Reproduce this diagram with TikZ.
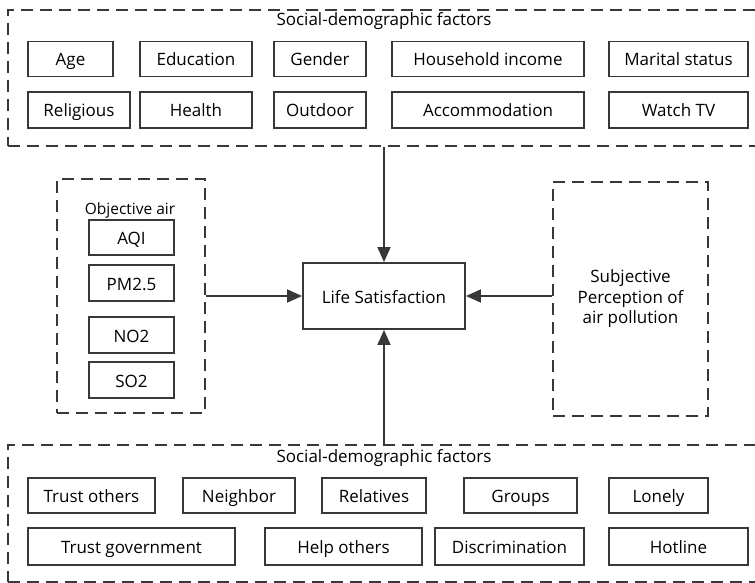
\documentclass[tikz,border=0pt]{standalone}
\usepackage{fontspec}
\setmainfont{Open Sans}
\usetikzlibrary{arrows.meta}
\definecolor{linegray}{HTML}{383838}

\begin{document}
\begin{tikzpicture}[x=1pt, y=-1pt,
    item/.style={draw=linegray, line width=1.9pt, inner sep=0pt, minimum height=35pt, text height=14.5pt, text depth=0.5pt, font=\fontsize{17}{20}\selectfont},
    group/.style={draw=linegray, line width=1.9pt, dash pattern=on 12pt off 7pt, inner sep=0pt},
    arr/.style={draw=linegray, line width=1.9pt, -{Triangle[length=15pt,width=13pt]}}]
  \useasboundingbox (0,0) rectangle (755,583);
  \clip (0,0) rectangle (755,583);
  % dashed containers
  \node[group, minimum width=752pt, minimum height=136pt] (sdtop) at (384,78) {};
  \node[group, minimum width=752pt, minimum height=137pt] (sdbottom) at (384,513.5) {};
  \node[group, minimum width=148pt, minimum height=234pt] (objair) at (131,296) {};
  \node[group, minimum width=155pt, minimum height=234pt, align=center, font=\fontsize{17}{20.5}\selectfont] (subjair) at (630.5,299) {Subjective\\Perception of\\air pollution};
  \node[item, minimum width=162pt, minimum height=66pt] (lifesat) at (384,296) {Life Satisfaction};
  % top factors
  \node[font=\fontsize{17}{20}\selectfont] (toptitle) at (384,21) {Social-demographic factors};
  \node[item, minimum width=85pt] (age) at (70.5,59) {Age};
  \node[item, minimum width=112pt] (edu) at (196,59) {Education};
  \node[item, minimum width=92pt] (gender) at (320,59) {Gender};
  \node[item, minimum width=192pt] (income) at (488,59) {Household income};
  \node[item, minimum width=139pt] (marital) at (678.5,59) {Marital status};
  \node[item, minimum width=102pt, minimum height=36pt] (relig) at (79,110) {Religious};
  \node[item, minimum width=112pt, minimum height=36pt] (health) at (196,110) {Health};
  \node[item, minimum width=92pt, minimum height=36pt] (outdoor) at (320,110) {Outdoor};
  \node[item, minimum width=192pt, minimum height=36pt] (accom) at (488,110) {Accommodation};
  \node[item, minimum width=139pt, minimum height=36pt] (tv) at (678.5,110) {Watch TV};
  % objective air
  \node[font=\fontsize{15.5}{18}\selectfont] (objtitle) at (130,210) {Objective air};
  \node[item, minimum width=85pt] (aqi) at (131.5,237.5) {AQI};
  \node[item, minimum width=85pt, minimum height=36pt] (pm) at (131.5,283) {PM2.5};
  \node[item, minimum width=85pt, minimum height=36pt] (no2) at (131.5,335) {NO2};
  \node[item, minimum width=85pt, minimum height=36pt] (so2) at (131.5,380) {SO2};
  % bottom factors
  \node[font=\fontsize{17}{20}\selectfont] (bottitle) at (384,458) {Social-demographic factors};
  \node[item, minimum width=127pt] (trust) at (91.5,495.5) {Trust others};
  \node[item, minimum width=112pt] (neigh) at (239,495.5) {Neighbor};
  \node[item, minimum width=104pt] (rel) at (374,495.5) {Relatives};
  \node[item, minimum width=113pt] (groups) at (520.5,495.5) {Groups};
  \node[item, minimum width=99pt] (lonely) at (658.5,495.5) {Lonely};
  \node[item, minimum width=207pt, minimum height=37pt] (trustgov) at (131.5,546.5) {Trust government};
  \node[item, minimum width=157pt, minimum height=37pt] (help) at (343.5,546.5) {Help others};
  \node[item, minimum width=149pt, minimum height=37pt] (discr) at (509.5,546.5) {Discrimination};
  \node[item, minimum width=139pt, minimum height=37pt] (hotline) at (678.5,546.5) {Hotline};
  % arrows
  \draw[arr] (sdtop.south -| lifesat) -- (lifesat.north);
  \draw[arr] (sdbottom.north -| lifesat) -- (lifesat.south);
  \draw[arr] (objair.east |- lifesat) -- (lifesat.west);
  \draw[arr] (subjair.west |- lifesat) -- (lifesat.east);
\end{tikzpicture}
\end{document}
